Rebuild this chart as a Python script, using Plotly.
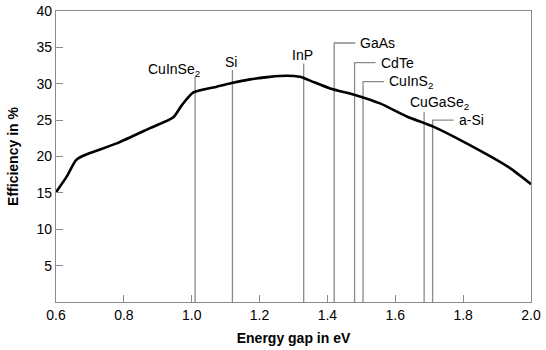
import plotly.graph_objects as go

# Efficiency curve
gap_ev = [0.60, 0.631, 0.659, 0.680, 0.779, 0.877, 0.946, 0.970, 1.005, 1.074, 1.118,
          1.172, 1.230, 1.280, 1.319, 1.345, 1.408, 1.486, 1.555, 1.634, 1.712, 1.810,
          1.935, 2.00]
efficiency = [15.1, 17.2, 19.5, 20.1, 21.8, 23.9, 25.4, 27.0, 28.8, 29.6, 30.1,
              30.6, 30.95, 31.1, 30.95, 30.5, 29.35, 28.4, 27.3, 25.5, 24.1, 21.8,
              18.5, 16.2]

# Materials and their band gaps
materials = ["CuInSe<sub>2</sub>", "Si", "InP", "GaAs", "CdTe", "CuInS<sub>2</sub>",
             "CuGaSe<sub>2</sub>", "a-Si"]
material_gap = [1.01, 1.12, 1.33, 1.42, 1.48, 1.505, 1.685, 1.71]
line_top = [30.95, 31.9, 32.8, 35.6, 32.9, 30.3, 26.1, 25.0]
label_style = ["above", "above", "above", "side", "side", "side", "above", "side"]

x_ticks = [0.6, 0.8, 1.0, 1.2, 1.4, 1.6, 1.8, 2.0]
y_ticks = [5, 10, 15, 20, 25, 30, 35, 40]

GRAY = "#8a8a8a"
LEAD = 0.062
FONT = "Liberation Sans, Arial, sans-serif"

fig = go.Figure()

annotations = []
for name, g, top, style in zip(materials, material_gap, line_top, label_style):
    if style == "side":
        xs = [g, g, g + LEAD]
        ys = [0, top, top]
        annotations.append(dict(x=g + LEAD, y=top, text=name, showarrow=False,
                                xanchor="left", yanchor="middle", xshift=3,
                                font=dict(size=14, color="black", family=FONT)))
    else:
        xs = [g, g]
        ys = [0, top]
        if name.startswith("CuInSe"):
            annotations.append(dict(x=g, y=top, text=name, showarrow=False,
                                    xanchor="right", yanchor="bottom", xshift=7, yshift=-4,
                                    font=dict(size=14, color="black", family=FONT)))
        else:
            xsh = 15 if name.startswith("CuGa") else -1
            annotations.append(dict(x=g, y=top, text=name, showarrow=False,
                                    xanchor="center", yanchor="bottom", xshift=xsh, yshift=-2,
                                    font=dict(size=14, color="black", family=FONT)))
    fig.add_trace(go.Scatter(x=xs, y=ys, mode="lines",
                             line=dict(color=GRAY, width=1.3),
                             hoverinfo="skip", showlegend=False))

fig.add_trace(go.Scatter(x=gap_ev, y=efficiency, mode="lines",
                         line=dict(color="black", width=2.6, shape="spline", smoothing=0.6),
                         showlegend=False))

axis_common = dict(showgrid=False, zeroline=False, showline=True, mirror=True,
                   linecolor=GRAY, linewidth=1.3, ticks="inside", tickcolor=GRAY,
                   ticklen=7, tickwidth=1.2, automargin=False,
                   tickfont=dict(size=14, color="black", family=FONT))

fig.update_layout(
    width=546, height=350,
    margin=dict(l=56, r=15, t=11, b=48),
    paper_bgcolor="white", plot_bgcolor="white",
    font=dict(family=FONT),
    xaxis=dict(range=[0.6, 2.0], tickvals=x_ticks,
               ticktext=[f"{v:.1f}" for v in x_ticks],
               title=dict(text="<b>Energy gap in eV</b>", standoff=11,
                          font=dict(size=14, color="black", family=FONT)),
               **axis_common),
    yaxis=dict(range=[0, 40], tickvals=y_ticks,
               ticktext=[str(v) for v in y_ticks],
               title=dict(text="<b>Efficiency in %</b>", standoff=14,
                          font=dict(size=14, color="black", family=FONT)),
               **axis_common),
    annotations=annotations,
)

fig.write_html("out.html")
